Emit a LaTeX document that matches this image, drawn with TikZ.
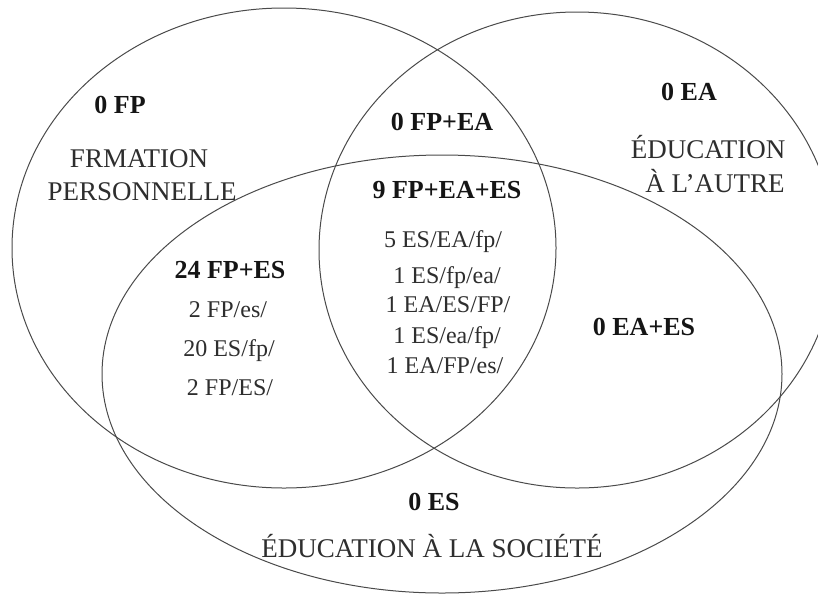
\documentclass[tikz,border=0pt]{standalone}
\usepackage{fontspec}
\setmainfont{Liberation Serif}
\usetikzlibrary{shapes.geometric}
\definecolor{linec}{HTML}{4A4A4A}
\definecolor{txtc}{HTML}{2E2E2E}
\definecolor{boldc}{HTML}{151515}
\begin{document}
\begin{tikzpicture}[x=1pt,y=-1pt,
  setc/.style={draw=linec,line width=1pt,ellipse,inner sep=0pt,fill=none},
  lab/.style={anchor=base,inner sep=0pt,text=txtc,font=\fontsize{27}{27}\selectfont},
  cnt/.style={anchor=base,inner sep=0pt,text=boldc,font=\fontsize{26}{26}\selectfont\bfseries},
  item/.style={anchor=base,inner sep=0pt,text=txtc,font=\fontsize{24}{24}\selectfont}]
\useasboundingbox[fill=white] (0,0) rectangle (818,595);
% sets
\node[setc,minimum width=544pt,minimum height=480pt] (fp) at (284,248) {};
\node[setc,minimum width=516pt,minimum height=476pt] (ea) at (577,250) {};
\node[setc,minimum width=680pt,minimum height=438pt] (es) at (442,374) {};
% FP only
\node[cnt] (tfp) at (120,113) {0 FP};
\node[lab] (nfp1) at (139,167) {FRMATION};
\node[lab] (nfp2) at (142,200) {PERSONNELLE};
% EA only
\node[cnt] (tea) at (689,100) {0 EA};
\node[lab] (nea1) at (708,158) {ÉDUCATION};
\node[lab] (nea2) at (715,192) {À L’AUTRE};
% ES only
\node[cnt] (tes) at (434,510) {0 ES};
\node[lab] (nes) at (432,557) {ÉDUCATION À LA SOCIÉTÉ};
% FP+EA
\node[cnt] (tfpea) at (442,130) {0 FP+EA};
% EA+ES
\node[cnt] (teaes) at (644,335) {0 EA+ES};
% FP+ES
\node[cnt] (tfpes) at (230,278) {24 FP+ES};
\node[item] (a1) at (228,317) {2 FP/es/};
\node[item] (a2) at (229,356) {20 ES/fp/};
\node[item] (a3) at (230,395) {2 FP/ES/};
% all three
\node[cnt] (tall) at (447,198) {9 FP+EA+ES};
\node[item] (b1) at (443,247) {5 ES/EA/fp/};
\node[item] (b2) at (447,283) {1 ES/fp/ea/};
\node[item] (b3) at (448,312) {1 EA/ES/FP/};
\node[item] (b4) at (447,343) {1 ES/ea/fp/};
\node[item] (b5) at (445,373) {1 EA/FP/es/};
\end{tikzpicture}
\end{document}
